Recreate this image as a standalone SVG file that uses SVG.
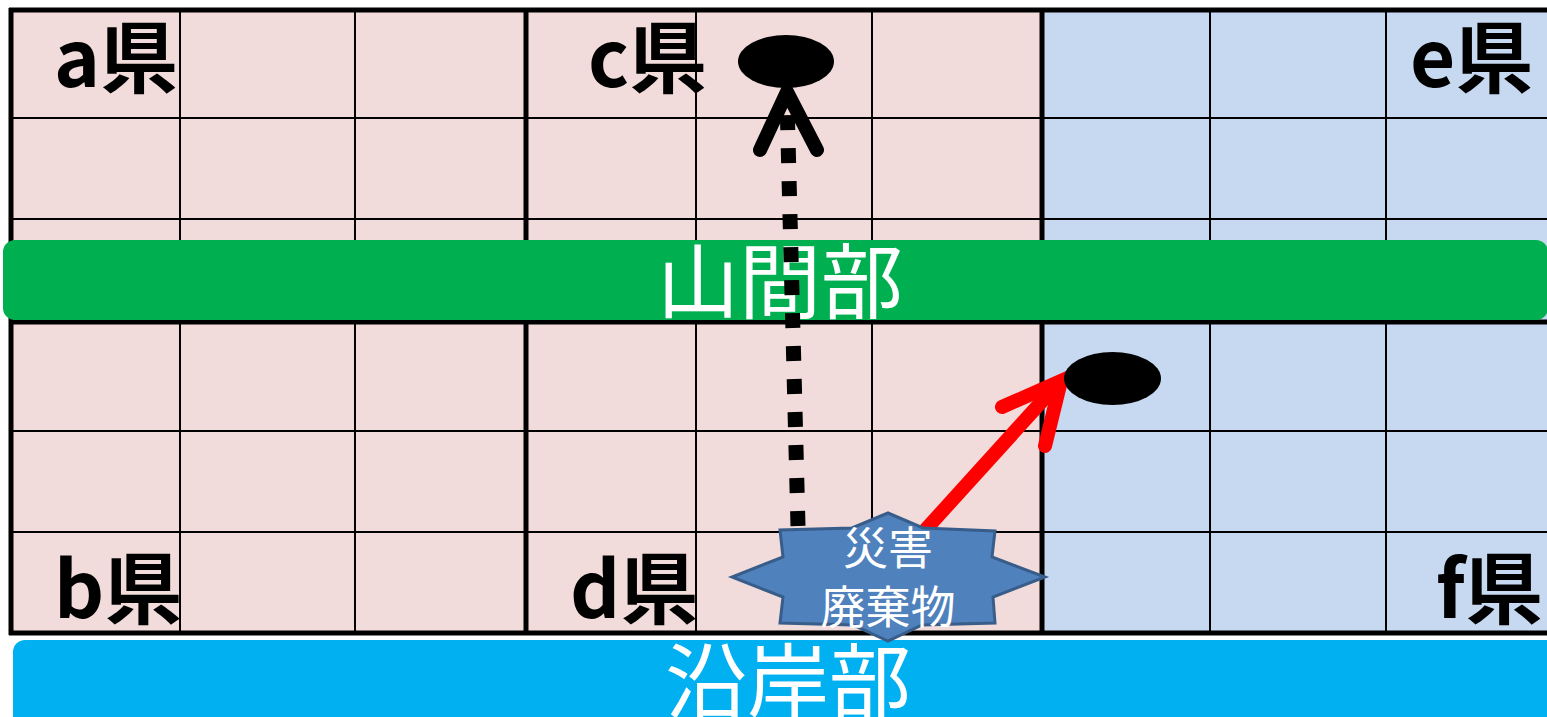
<svg xmlns="http://www.w3.org/2000/svg" width="1547" height="717" viewBox="0 0 1547 717">
<style>
.thin{stroke:#000;stroke-width:2;fill:none}
.thick{stroke:#000;stroke-width:5;fill:none}
.pref{font-family:"Noto Sans CJK JP","Noto Sans",sans-serif;font-weight:bold;font-size:78px;fill:#000}
.band{font-family:"Noto Sans CJK JP",sans-serif;font-size:82px;fill:#fff;text-anchor:middle}
.star{font-family:"Noto Sans CJK JP",sans-serif;font-size:45px;fill:#fff;text-anchor:middle}
</style>
<rect x="0" y="0" width="1547" height="717" fill="#fff"/>
<g id="grid">
<rect x="11" y="10" width="1031" height="623" fill="#F2DCDB"/>
<rect x="1042" y="10" width="510" height="623" fill="#C6D9F1"/>
<g class="thin">
<line x1="11" y1="118" x2="1550" y2="118"/>
<line x1="11" y1="219" x2="1550" y2="219"/>
<line x1="11" y1="431" x2="1550" y2="431"/>
<line x1="11" y1="532" x2="1550" y2="532"/>
<line x1="180" y1="10" x2="180" y2="633"/>
<line x1="355" y1="10" x2="355" y2="633"/>
<line x1="696" y1="10" x2="696" y2="633"/>
<line x1="872" y1="10" x2="872" y2="633"/>
<line x1="1210" y1="10" x2="1210" y2="633"/>
<line x1="1386" y1="10" x2="1386" y2="633"/>
</g>
<g class="thick">
<line x1="9" y1="10" x2="1550" y2="10"/>
<line x1="9" y1="322" x2="1550" y2="322"/>
<line x1="9" y1="633" x2="1550" y2="633"/>
<line x1="11" y1="8" x2="11" y2="635"/>
<line x1="526" y1="8" x2="526" y2="635"/>
<line x1="1042" y1="8" x2="1042" y2="635"/>
</g>
</g>
<g id="sankanbu">
<rect x="3" y="240" width="1545" height="80" rx="12" fill="#00B050"/>
<text class="band" x="780" y="312">山間部</text>
</g>
<g id="engan">
<rect x="13" y="640" width="1545" height="90" rx="12" fill="#00B0F0"/>
<text class="band" x="788" y="712">沿岸部</text>
</g>
<g id="labels">
<text class="pref" x="54" y="87">a県</text>
<text class="pref" x="588" y="87">c県</text>
<text class="pref" x="1410" y="87">e県</text>
<text class="pref" x="54" y="618">b県</text>
<text class="pref" x="570" y="618">d県</text>
<text class="pref" x="1436" y="618">f県</text>
</g>
<g id="connectors">
<path d="M798,526 L787,100" stroke="#000" stroke-width="15" stroke-dasharray="15 18" fill="none"/>
<path d="M760,150 L787,92 L817,150" stroke="#000" stroke-width="14" stroke-linecap="round" stroke-linejoin="miter" fill="none"/>
<path d="M918,538 L1054,388" stroke="#F00" stroke-width="14" fill="none"/>
<path d="M1002,407 L1061,381 L1045,446" stroke="#F00" stroke-width="14" stroke-linecap="round" stroke-linejoin="miter" fill="none"/>
</g>
<g id="siteC">
<ellipse cx="786" cy="61.5" rx="48" ry="26.5" fill="#000"/>
</g>
<g id="siteE">
<ellipse cx="1112.5" cy="378.5" rx="48.5" ry="26.5" fill="#000"/>
</g>
<g id="waste">
<polygon points="888,513 923,528 995,531 992,557 1045,577 993,597 995,623 922,625 888,641 853,625 780,623 783,597 732,577 783,557 780,530 852,528" fill="#4F81BD" stroke="#385D8A" stroke-width="3"/>
<text class="star" x="888" y="565">災害</text>
<text class="star" x="888" y="624">廃棄物</text>
</g>
</svg>
